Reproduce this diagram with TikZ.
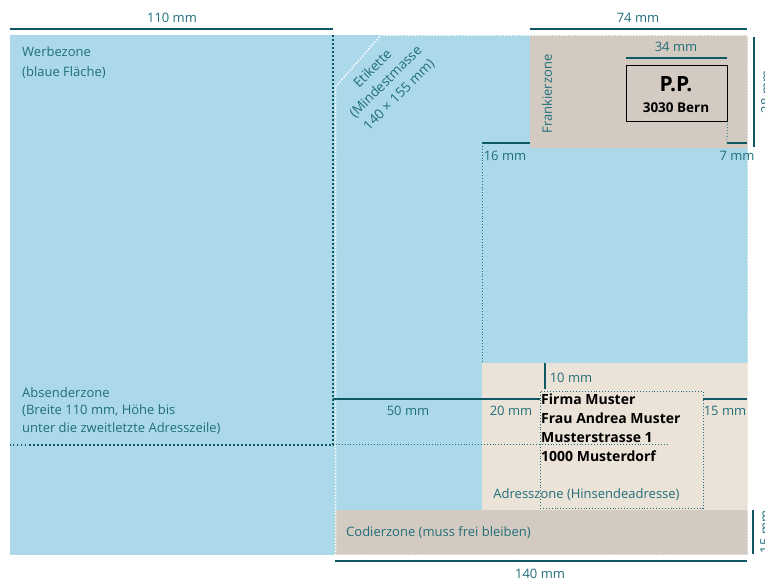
\documentclass[tikz,border=0pt]{standalone}
\usepackage{fontspec}
\setmainfont{Open Sans}
\definecolor{bluezone}{RGB}{171,217,233}
\definecolor{taupe}{RGB}{211,202,194}
\definecolor{beige}{RGB}{235,227,216}
\definecolor{tealtxt}{RGB}{33,110,122}
\definecolor{tealline}{RGB}{14,88,100}
\tikzset{
  dimline/.style={draw=tealline, line width=2pt},
  lbl/.style={text=tealtxt, font=\fontsize{13}{18}\selectfont, inner sep=0pt},
  addr/.style={font=\bfseries\fontsize{14}{19}\selectfont, inner sep=0pt, anchor=base west},
  whitedots/.style={draw=white, line width=1.5pt, dash pattern=on 1.5pt off 1.6pt},
  darkdots/.style={draw=tealline, line width=2pt, dash pattern=on 1.5pt off 2.5pt},
  thindots/.style={draw=tealtxt, line width=0.8pt, dash pattern=on 0.9pt off 2pt},
}
\begin{document}
\begin{tikzpicture}[x=1pt,y=-1pt]
\useasboundingbox (0,0) rectangle (765,581);
% zones
\fill[bluezone] (10,35) rectangle (748,555);
\fill[taupe] (530,35) rectangle (748,148);
\fill[beige] (482,363) rectangle (748,510);
\fill[taupe] (335,510) rectangle (748,555);
% label outline (Etikette)
\draw[whitedots] (335.5,555) -- (335.5,87) -- (381,35) -- (748,35) -- (748,555) -- cycle;
% Absenderzone boundaries
\coordinate (abTop) at (333,35);
\coordinate (abCorner) at (333,444.5);
\coordinate (abLeft) at (10,444.5);
\coordinate (abEnd) at (667,444.5);
\draw[darkdots] (abTop) -- (abCorner) -- (abLeft);
\draw[thindots] (abCorner) -- (abEnd);
% top dimensions
\coordinate (d110a) at (10,29); \coordinate (d110b) at (333,29);
\draw[dimline] (d110a) -- (d110b);
\node[lbl] (l110) at (172,18) {110 mm};
\coordinate (d74a) at (530,29); \coordinate (d74b) at (747,29);
\draw[dimline] (d74a) -- (d74b);
\node[lbl] (l74) at (638,18) {74 mm};
% Frankierzone
\node[lbl, rotate=90] (frank) at (547,94) {Frankierzone};
\coordinate (d34a) at (626,58); \coordinate (d34b) at (727,58);
\draw[dimline] (d34a) -- (d34b);
\node[lbl] (l34) at (676,47) {34 mm};
\node[draw=black, line width=0.8pt, minimum width=101pt, minimum height=56pt, inner sep=0pt] (pp) at (676.5,93) {};
\node[font=\bfseries\fontsize{21}{24}\selectfont, inner sep=0pt] (ppt) at (676,84) {P.P.};
\node[font=\bfseries\fontsize{13.5}{16}\selectfont, inner sep=0pt] (bern) at (676,107.5) {3030 Bern};
% 7 mm
\coordinate (d7a) at (727,143); \coordinate (d7b) at (747,143);
\draw[thindots] (pp.south east) -- (d7a);
\draw[dimline] (d7a) -- (d7b);
\node[lbl] (l7) at (737,156) {7 mm};
% 28 mm
\coordinate (d28a) at (754,37); \coordinate (d28b) at (754,147);
\draw[dimline] (d28a) -- (d28b);
\node[lbl, rotate=90] (l28) at (766,92) {28 mm};
% 16 mm
\coordinate (d16a) at (482,143); \coordinate (d16b) at (530,143);
\coordinate (d16c) at (482,363);
\draw[dimline] (d16a) -- (d16b);
\draw[thindots] (d16a) -- (d16c);
\node[lbl] (l16) at (505,156) {16 mm};
% 10 mm
\coordinate (d10a) at (545,363); \coordinate (d10b) at (545,389);
\draw[dimline] (d10a) -- (d10b);
\node[lbl] (l10) at (571,378) {10 mm};
% address box
\node[thindots, draw, minimum width=163pt, minimum height=117pt, inner sep=0pt] (abox) at (621.5,449.5) {};
% 50/20 mm
\coordinate (d50a) at (333,398.5);
\draw[dimline] (d50a) -- (abox.north west |- d50a);
\node[lbl] (l50) at (408,411) {50 mm};
\node[lbl] (l20) at (511,411) {20 mm};
% 15 mm
\coordinate (d15b) at (747,398.5);
\draw[dimline] (abox.north east |- d15b) -- (d15b);
\node[lbl] (l15) at (725,411) {15 mm};
% address lines
\node[addr] (a1) at (541,404) {Firma Muster};
\node[addr] (a2) at (541,423) {Frau Andrea Muster};
\node[addr] (a3) at (541,442) {Musterstrasse 1};
\node[addr] (a4) at (541,461) {1000 Musterdorf};
\node[lbl] (adz) at (586.5,495) {Adresszone (Hinsendeadresse)};
% Codierzone
\node[lbl, anchor=west] (cod) at (346,533) {Codierzone (muss frei bleiben)};
\coordinate (d140a) at (335,561); \coordinate (d140b) at (747,561);
\draw[dimline] (d140a) -- (d140b);
\node[lbl] (l140) at (540,574) {140 mm};
\coordinate (d15va) at (753,510); \coordinate (d15vb) at (753,554);
\draw[dimline] (d15va) -- (d15vb);
\node[lbl, rotate=90] (l15v) at (765,532) {15 mm};
% left texts
\node[lbl, anchor=north west, align=left, font=\fontsize{13}{20}\selectfont] (werbe) at (22,46) {Werbezone\\(blaue Fläche)};
\node[lbl, anchor=north west, align=left, font=\fontsize{13}{17.5}\selectfont] (absender) at (22,387) {Absenderzone\\(Breite 110 mm, Höhe bis\\unter die zweitletzte Adresszeile)};
% Etikette
\node[lbl, rotate=45, align=center, font=\fontsize{13.5}{18.5}\selectfont] (etik) at (386,82) {Etikette\\(Mindestmasse\\140 × 155 mm)};
\end{tikzpicture}
\end{document}
